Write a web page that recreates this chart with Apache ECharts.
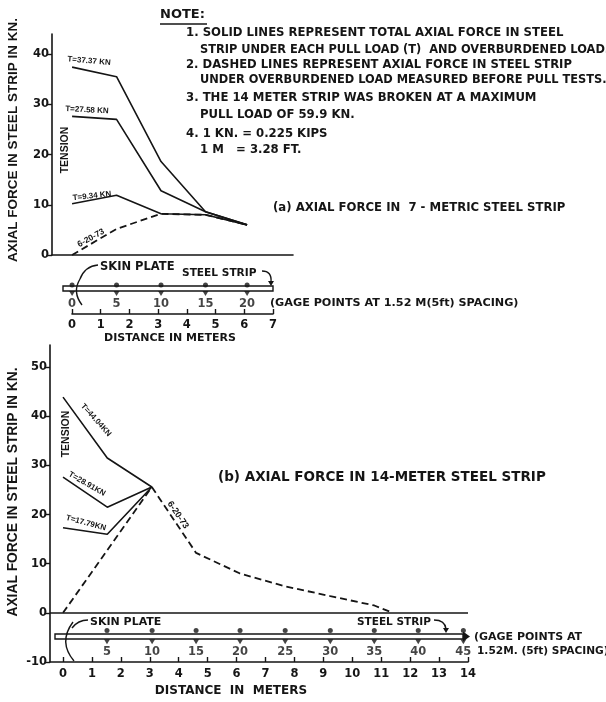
<!DOCTYPE html>
<html><head><meta charset="utf-8">
<script src="https://cdn.jsdelivr.net/npm/echarts@6/dist/echarts.min.js"></script>
<style>html,body{margin:0;padding:0;background:#fff}#c{width:606px;height:702px}</style>
</head><body><div id="c"></div>
<script>
// ---------- data (a) 7-meter strip ----------
const gageA = [0, 1.55, 3.1, 4.65, 6.1];          // gage point positions (m)
const gageLabelsA = ['0', '5', '10', '15', '20'];  // gage numbers (ft)
const tA37 = [37.4, 35.5, 18.6, 8.6, 6.0];         // T=37.37 KN
const tA27 = [27.6, 27.0, 12.8, 8.6, 6.0];         // T=27.58 KN
const tA9 = [10.2, 11.9, 8.2, 8.0, 6.0];           // T=9.34 KN
const dashA = [0, 5.2, 8.2, 8.0, 6.0];             // 6-20-73 overburden
const yTicksA = [0, 10, 20, 30, 40];
// ---------- data (b) 14-meter strip ----------
const xB = [0, 1.53, 3.07];
const tB44 = [43.9, 31.5, 25.6];                   // T=44.04 KN
const tB28 = [27.6, 21.5, 25.6];                   // T=28.91 KN
const tB17 = [17.3, 16.0, 25.6];                   // T=17.79 KN
const dashBx = [0, 3.07, 4.6, 6.12, 7.68, 9.24, 10.76, 11.4];
const dashBy = [0, 25.6, 12.2, 8.0, 5.4, 3.4, 1.5, 0];
const gageB = [1.52, 3.08, 4.6, 6.12, 7.68, 9.24, 10.76, 12.28, 13.84];
const gageLabelsB = ['5', '10', '15', '20', '25', '30', '35', '40', '45'];
const yTicksB = [-10, 0, 10, 20, 30, 40, 50];

const FF = '"DejaVu Sans", "Liberation Sans", Arial, sans-serif';
const FL = '"Liberation Sans", Arial, sans-serif';
const INK = '#151515';
const zip = (xs, ys) => xs.map((x, i) => [x, ys[i]]);

function txt(text, x, y, size, o) {
  o = o || {};
  return {
    type: 'text', x: x, y: y, rotation: (o.rot || 0) * Math.PI / 180, z: 100,
    style: {
      text: text, x: 0, y: 0, fill: INK,
      font: (o.weight || 'normal') + ' ' + size + 'px ' + (o.ff || FF),
      textAlign: o.align || 'left', align: o.align || 'left',
      textVerticalAlign: 'middle', verticalAlign: 'middle'
    }
  };
}
function ln(x1, y1, x2, y2, w) {
  return { type: 'line', z: 100, shape: { x1, y1, x2, y2 }, style: { stroke: INK, lineWidth: w || 1.2 } };
}
function bez(x1, y1, cx, cy, x2, y2) {
  return { type: 'bezierCurve', z: 100, shape: { x1, y1, cpx1: cx, cpy1: cy, x2, y2 }, style: { stroke: INK, fill: null, lineWidth: 1.4 } };
}
function head(pts) {
  return { type: 'polygon', z: 100, shape: { points: pts }, style: { fill: INK } };
}

const solid = { color: INK, width: 1.6 };
const dashed = { color: INK, width: 1.8, type: [7, 4] };
function lineSeries(xi, data, style) {
  return { type: 'line', xAxisIndex: xi, yAxisIndex: xi, data: data, symbol: 'none',
    lineStyle: style, silent: true, animation: false };
}

const axLabel = { color: INK, fontSize: 11.5, fontFamily: FF, fontWeight: 'bold' };
const B = { weight: 'bold' };
const option = {
  backgroundColor: '#fff',
  animation: false,
  grid: [
    { left: 52, top: 34, width: 241, height: 221 },
    { left: 52, top: 280, width: 241, height: 20 },
    { left: 72, top: 300, width: 201, height: 14 },
    { left: 50, top: 345, width: 418, height: 317 },
    { left: 63, top: 345, width: 405, height: 317 }
  ],
  xAxis: [
    { gridIndex: 0, type: 'value', min: -0.7, max: 7.7, axisLine: { onZero: false, lineStyle: { color: INK, width: 1.6 } },
      axisTick: { show: false }, axisLabel: { show: false }, splitLine: { show: false } },
    { gridIndex: 1, type: 'value', min: -0.7, max: 7.7, show: false },
    { gridIndex: 2, type: 'value', min: 0, max: 7, interval: 1, axisLine: { onZero: false, lineStyle: { color: INK, width: 1.6 } },
      axisTick: { inside: true, length: 5, lineStyle: { color: INK, width: 1.4 } }, axisLabel: Object.assign({ margin: 5 }, axLabel), splitLine: { show: false } },
    { gridIndex: 3, type: 'value', min: -0.45, max: 14, axisLine: { onZero: false, lineStyle: { color: INK, width: 1.6 } },
      axisTick: { show: false }, axisLabel: { show: false }, splitLine: { show: false } },
    { gridIndex: 4, type: 'value', min: 0, max: 14, interval: 1, axisLine: { show: false, onZero: false },
      axisTick: { inside: true, length: 5, lineStyle: { color: INK, width: 1.4 } }, axisLabel: Object.assign({ margin: 6 }, axLabel), splitLine: { show: false } }
  ],
  yAxis: [
    { gridIndex: 0, type: 'value', min: 0, max: 44, axisLine: { show: true, onZero: false, lineStyle: { color: INK, width: 1.6 } },
      axisTick: { show: true, length: 5, customValues: yTicksA, lineStyle: { color: INK, width: 1.4 } },
      axisLabel: Object.assign({ margin: 3, customValues: yTicksA }, axLabel), splitLine: { show: false } },
    { gridIndex: 1, type: 'value', min: -1, max: 1, show: false },
    { gridIndex: 2, type: 'value', min: 0, max: 1, show: false },
    { gridIndex: 3, type: 'value', min: -10, max: 54.5, axisLine: { show: true, onZero: false, lineStyle: { color: INK, width: 1.6 } },
      axisTick: { show: true, length: 5, customValues: yTicksB, lineStyle: { color: INK, width: 1.4 } },
      axisLabel: Object.assign({ margin: 3, customValues: yTicksB }, axLabel), splitLine: { show: false } },
    { gridIndex: 4, type: 'value', min: -10, max: 54.5, show: false }
  ],
  series: [
    lineSeries(0, zip(gageA, tA37), solid),
    lineSeries(0, zip(gageA, tA27), solid),
    lineSeries(0, zip(gageA, tA9), solid),
    lineSeries(0, zip(gageA, dashA), dashed),
    { type: 'scatter', xAxisIndex: 1, yAxisIndex: 1, symbol: 'circle', symbolSize: 5, itemStyle: { color: INK },
      data: gageA.map(x => [x, 0.5]), silent: true },
    { type: 'scatter', xAxisIndex: 1, yAxisIndex: 1, symbol: 'triangle', symbolRotate: 180, symbolSize: [6, 5], itemStyle: { color: INK },
      data: gageA.map(x => [x, -0.35]), silent: true,
      label: { show: true, position: 'bottom', distance: 2, color: INK, fontSize: 11.5, fontFamily: FF, fontWeight: 'bold',
        formatter: p => gageLabelsA[p.dataIndex] } },
    Object.assign(lineSeries(3, zip(xB, tB44), solid), {
      markLine: { silent: true, symbol: 'none', label: { show: false }, lineStyle: { color: INK, width: 1.5, type: 'solid' },
        data: [{ yAxis: 0 }] } }),
    lineSeries(3, zip(xB, tB28), solid),
    lineSeries(3, zip(xB, tB17), solid),
    lineSeries(3, zip(dashBx, dashBy), dashed),
    { type: 'scatter', xAxisIndex: 3, yAxisIndex: 3, symbol: 'circle', symbolSize: 5, itemStyle: { color: INK },
      data: gageB.map(x => [x, -3.6]), silent: true },
    { type: 'scatter', xAxisIndex: 3, yAxisIndex: 3, symbol: 'triangle', symbolRotate: 180, symbolSize: [6, 5], itemStyle: { color: INK },
      data: gageB.map(x => [x, -5.9]), silent: true,
      label: { show: true, position: 'bottom', distance: 2, color: INK, fontSize: 11.5, fontFamily: FF, fontWeight: 'bold',
        formatter: p => gageLabelsB[p.dataIndex] } }
  ],
  graphic: [
    // Notes
    txt('NOTE:', 160, 15, 13, B),
    ln(160, 24, 207, 24, 1.4),
    txt('1. SOLID LINES REPRESENT TOTAL AXIAL FORCE IN STEEL', 186, 33, 11.7, B),
    txt('STRIP UNDER EACH PULL LOAD (T)  AND OVERBURDENED LOAD.', 200, 50, 11.4, B),
    txt('2. DASHED LINES REPRESENT AXIAL FORCE IN STEEL STRIP', 186, 65, 11.6, B),
    txt('UNDER OVERBURDENED LOAD MEASURED BEFORE PULL TESTS.', 200, 80, 11.4, B),
    txt('3. THE 14 METER STRIP WAS BROKEN AT A MAXIMUM', 186, 98, 11.7, B),
    txt('PULL LOAD OF 59.9 KN.', 200, 115, 11.7, B),
    txt('4. 1 KN. = 0.225 KIPS', 186, 134, 11.7, B),
    txt('1 M   = 3.28 FT.', 200, 150, 11.7, B),
    // titles
    txt('(a) AXIAL FORCE IN  7 - METRIC STEEL STRIP', 273, 208, 11.7, B),
    txt('(b) AXIAL FORCE IN 14-METER STEEL STRIP', 218, 477, 13.5, B),
    // y axis names
    txt('AXIAL FORCE IN STEEL STRIP IN KN.', 13, 140, 13.5, { rot: 90, align: 'center', ff: FL, weight: 'bold' }),
    txt('AXIAL FORCE IN STEEL STRIP IN KN.', 13, 492, 13.8, { rot: 90, align: 'center', ff: FL, weight: 'bold' }),
    txt('TENSION', 65, 150, 10.5, { rot: 90, align: 'center', ff: FL, weight: 'bold' }),
    txt('TENSION', 66, 434, 10.5, { rot: 90, align: 'center', ff: FL, weight: 'bold' }),
    // series labels (a)
    txt('T=37.37 KN', 89, 61, 8, { rot: -5, align: 'center', ff: FL, weight: 'bold' }),
    txt('T=27.58 KN', 87, 110, 8, { rot: -3, align: 'center', ff: FL, weight: 'bold' }),
    txt('T=9.34 KN', 92, 196, 8, { rot: 6, align: 'center', ff: FL, weight: 'bold' }),
    txt('6-20-73', 91, 238, 8.5, { rot: 29, align: 'center', ff: FL, weight: 'bold' }),
    // series labels (b)
    txt('T=44.04KN', 96, 420, 8, { rot: -48, align: 'center', ff: FL, weight: 'bold' }),
    txt('T=28.91KN', 87, 484, 8, { rot: -30, align: 'center', ff: FL, weight: 'bold' }),
    txt('T=17.79KN', 86, 523, 8, { rot: -15, align: 'center', ff: FL, weight: 'bold' }),
    txt('6-20-73', 178, 515, 9, { rot: -56, align: 'center', ff: FL, weight: 'bold' }),
    // strip (a)
    { type: 'rect', z: 90, shape: { x: 63, y: 286, width: 210, height: 5 }, style: { stroke: INK, fill: null, lineWidth: 1.4 } },
    bez(80, 279, 72, 292, 82, 305),
    txt('SKIN PLATE', 100, 267, 11.5, B),
    bez(98, 265, 85, 266, 80, 279),
    txt('STEEL STRIP', 182, 273, 10.6, B),
    bez(262, 271, 272, 271, 271, 282),
    head([[268, 281], [274, 281], [271, 286]]),
    txt('(GAGE POINTS AT 1.52 M(5ft) SPACING)', 270, 303, 11.2, B),
    txt('DISTANCE IN METERS', 170, 338, 11, { align: 'center', weight: 'bold' }),
    // strip (b)
    { type: 'rect', z: 90, shape: { x: 55, y: 634, width: 408, height: 5 }, style: { stroke: INK, fill: null, lineWidth: 1.4 } },
    head([[463, 631.5], [463, 641.5], [470, 636.5]]),
    bez(73, 622, 58, 642, 74, 661),
    txt('SKIN PLATE', 90, 622, 11, B),
    bez(88, 620, 78, 620, 72, 628),
    txt('STEEL STRIP', 357, 622, 10.5, B),
    bez(434, 620, 445, 620, 446, 629),
    head([[443, 628], [449, 628], [446, 633]]),
    txt('(GAGE POINTS AT', 474, 637, 11, B),
    txt('1.52M. (5ft) SPACING)', 477, 651, 10.6, B),
    txt('DISTANCE  IN  METERS', 231, 691, 12, { align: 'center', weight: 'bold' })
  ]
};
const chart = echarts.init(document.getElementById('c'), null, { renderer: 'canvas' });
chart.setOption(option);
</script></body></html>
